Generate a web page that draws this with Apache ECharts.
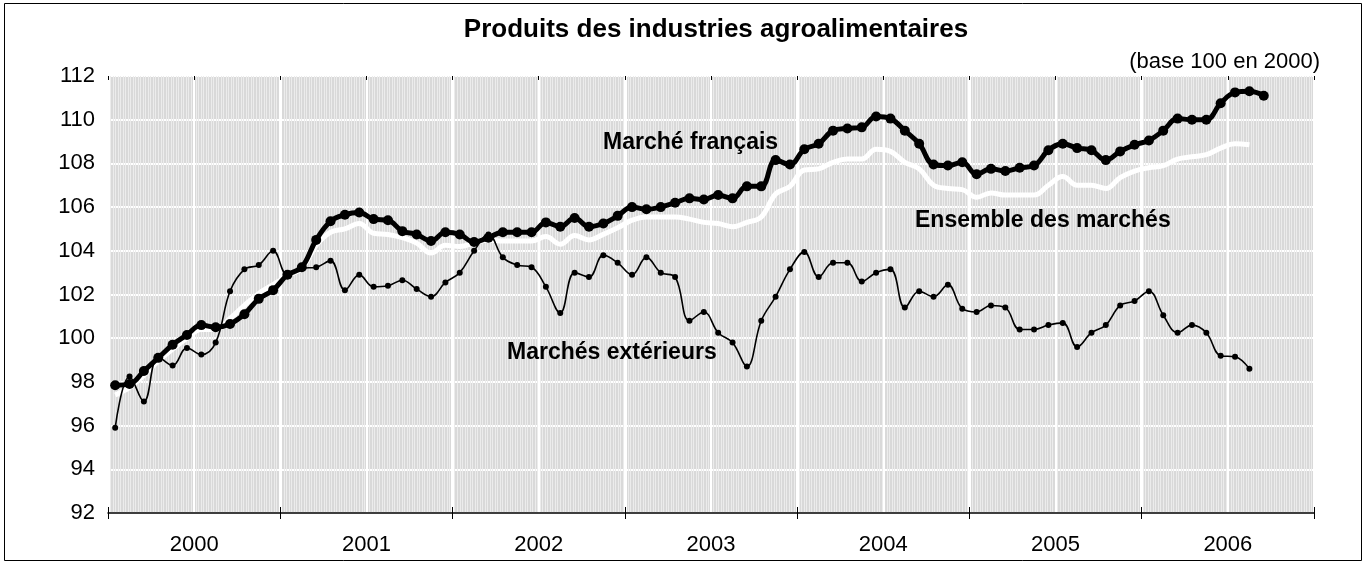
<!DOCTYPE html>
<html>
<head>
<meta charset="utf-8">
<title>Produits des industries agroalimentaires</title>
<script src="https://cdn.jsdelivr.net/npm/echarts@6/dist/echarts.min.js"></script>
<style>
  html, body { margin: 0; padding: 0; background: #fff; }
  #chart { width: 1372px; height: 564px; }
</style>
</head>
<body>
<div id="chart"></div>
<script>
  // axe des temps : une catégorie par mois, libellés par année
  const years = ['2000', '2001', '2002', '2003', '2004', '2005', '2006']
  const monthNums = ['01', '02', '03', '04', '05', '06', '07', '08', '09', '10', '11', '12']
  const months = []
  years.forEach(y => monthNums.forEach(m => months.push(y + '-' + m)))

  const yTicks = [92, 94, 96, 98, 100, 102, 104, 106, 108, 110, 112]

  // indices mensuels (base 100 en 2000)
  const marcheFrancais = [
    97.85, 97.9, 98.5, 99.1, 99.7, 100.15, 100.6, 100.5, 100.65, 101.1, 101.8, 102.2,
    102.9, 103.25, 104.5, 105.35, 105.65, 105.75, 105.45, 105.4, 104.9, 104.75, 104.45, 104.85,
    104.75, 104.4, 104.6, 104.85, 104.85, 104.85, 105.3, 105.1, 105.5, 105.1, 105.25, 105.6,
    106.0, 105.9, 106.0, 106.2, 106.4, 106.35, 106.55, 106.4, 106.95, 106.95, 108.15, 107.95,
    108.65, 108.9, 109.5, 109.6, 109.65, 110.15, 110.05, 109.5, 108.9, 107.95, 107.9, 108.05,
    107.5, 107.75, 107.65, 107.8, 107.9, 108.6, 108.9, 108.7, 108.6, 108.15, 108.55, 108.85,
    109.05, 109.5, 110.05, 110.0, 110.0, 110.75, 111.25, 111.3, 111.1
  ]
  const ensembleMarches = [
    97.4, 97.75, 98.3, 98.95, 99.5, 100.0, 100.4, 100.4, 100.9, 101.5, 102.05, 102.45,
    102.85, 103.2, 104.25, 104.85, 105.0, 105.25, 104.8, 104.75, 104.6, 104.35, 103.9, 104.25,
    104.2, 104.35, 104.5, 104.45, 104.45, 104.45, 104.65, 104.3, 104.7, 104.5, 104.75, 105.05,
    105.4, 105.55, 105.55, 105.55, 105.45, 105.3, 105.25, 105.1, 105.3, 105.55, 106.6, 106.95,
    107.7, 107.75, 108.05, 108.2, 108.2, 108.65, 108.55, 108.05, 107.75, 107.0, 106.85, 106.8,
    106.45, 106.65, 106.55, 106.55, 106.55, 107.0, 107.4, 107.0, 107.0, 106.85, 107.35, 107.65,
    107.8, 107.9, 108.2, 108.3, 108.4, 108.7, 108.9, 108.85
  ]
  const marchesExterieurs = [
    95.9, 98.25, 97.1, 99.15, 98.75, 99.55, 99.25, 99.8, 102.15, 103.15, 103.35, 104.0,
    102.9, 103.2, 103.25, 103.55, 102.2, 102.9, 102.35, 102.4, 102.65, 102.25, 101.9, 102.55,
    103.0, 104.0, 104.75, 103.7, 103.35, 103.25, 102.35, 101.15, 103.0, 102.8, 103.8, 103.45,
    102.9, 103.7, 103.0, 102.8, 100.8, 101.2, 100.25, 99.8, 98.7, 100.8, 101.9, 103.15,
    103.95, 102.8, 103.45, 103.45, 102.6, 103.0, 103.15, 101.4, 102.15, 101.9, 102.45, 101.35,
    101.2, 101.5, 101.4, 100.4, 100.4, 100.6, 100.7, 99.6, 100.25, 100.6, 101.5, 101.7,
    102.15, 101.05, 100.25, 100.6, 100.25, 99.2, 99.15, 98.6
  ]

  const font = 'Liberation Sans, Arial, sans-serif'
  const hatchCount = 480 // fines hachures verticales du fond

  const chart = echarts.init(document.getElementById('chart'))
  chart.setOption({
    animation: false,
    backgroundColor: '#fff',
    textStyle: { fontFamily: font, color: '#000' },
    grid: {
      left: 108,
      right: 58,
      top: 76,
      bottom: 51,
      show: true,
      backgroundColor: '#d9d9d9',
      borderWidth: 0
    },
    xAxis: [
      { // hachures
        type: 'value', min: 0, max: hatchCount, interval: 1,
        axisLine: { show: false }, axisTick: { show: false }, axisLabel: { show: false },
        splitLine: { show: true, lineStyle: { color: '#ececec', width: 1 } }
      },
      { // mois (données)
        type: 'category', data: months, boundaryGap: true,
        axisLine: { show: false },
        axisLabel: { show: false },
        axisTick: { show: true, inside: true, length: 4, interval: (i) => i % 6 === 0,
          lineStyle: { color: '#000', width: 1 } },
        splitLine: { show: true, interval: (i) => i % 6 === 0,
          lineStyle: { color: '#fff', width: 2 } }
      },
      { // années
        type: 'category', data: years, boundaryGap: true, position: 'bottom',
        axisLine: { show: true, lineStyle: { color: '#000', width: 1.5 } },
        axisTick: { show: true, inside: false, length: 6, lineStyle: { color: '#000', width: 1 } },
        axisLabel: { show: true, margin: 21, fontSize: 22, color: '#000', fontFamily: font },
        splitLine: { show: true, lineStyle: { color: '#fff', width: 3 } }
      },
      {
        type: 'category', data: years, boundaryGap: true, position: 'bottom',
        axisLine: { show: false },
        axisTick: { show: true, inside: true, length: 6, lineStyle: { color: '#000', width: 1 } },
        axisLabel: { show: false },
        splitLine: { show: false }
      }
    ],
    yAxis: {
      type: 'value',
      min: yTicks[0],
      max: yTicks[yTicks.length - 1],
      interval: yTicks[1] - yTicks[0],
      axisLine: { show: false },
      axisTick: { show: false },
      axisLabel: { margin: 13, fontSize: 22, color: '#000', fontFamily: font },
      splitLine: { show: true, lineStyle: { color: '#fff', width: 2 } }
    },
    series: [
      {
        name: 'Ensemble des marchés',
        type: 'line',
        xAxisIndex: 1,
        data: ensembleMarches,
        smooth: 0.4,
        showSymbol: false,
        lineStyle: { color: '#fff', width: 5 },
        z: 2
      },
      {
        name: 'Marchés extérieurs',
        type: 'line',
        xAxisIndex: 1,
        data: marchesExterieurs,
        smooth: 0.4,
        symbol: 'circle',
        symbolSize: 6,
        showAllSymbol: true,
        itemStyle: { color: '#000' },
        lineStyle: { color: '#000', width: 1.6 },
        z: 3
      },
      {
        name: 'Marché français',
        type: 'line',
        xAxisIndex: 1,
        data: marcheFrancais,
        smooth: 0.4,
        symbol: 'circle',
        symbolSize: 10,
        showAllSymbol: true,
        itemStyle: { color: '#000' },
        lineStyle: { color: '#000', width: 5 },
        z: 4
      }
    ],
    graphic: [
      {
        type: 'rect', silent: true,
        shape: { x: 4.5, y: 3.5, width: 1357, height: 557 },
        style: { fill: null, stroke: '#000', lineWidth: 1 }
      },
      {
        type: 'text', x: 716, y: 30,
        style: { text: 'Produits des industries agroalimentaires', font: 'bold 26px ' + font,
          fill: '#000', textAlign: 'center', textVerticalAlign: 'middle' }
      },
      {
        type: 'text', x: 1320, y: 62,
        style: { text: '(base 100 en 2000)', font: '22px ' + font,
          fill: '#000', textAlign: 'right', textVerticalAlign: 'middle' }
      },
      {
        type: 'text', x: 603, y: 143, z: 10,
        style: { text: 'Marché français', font: 'bold 23px ' + font,
          fill: '#000', textAlign: 'left', textVerticalAlign: 'middle' }
      },
      {
        type: 'text', x: 915, y: 221, z: 10,
        style: { text: 'Ensemble des marchés', font: 'bold 23px ' + font,
          fill: '#000', textAlign: 'left', textVerticalAlign: 'middle' }
      },
      {
        type: 'text', x: 507, y: 353, z: 10,
        style: { text: 'Marchés extérieurs', font: 'bold 23px ' + font,
          fill: '#000', textAlign: 'left', textVerticalAlign: 'middle' }
      }
    ]
  })
</script>
</body>
</html>
